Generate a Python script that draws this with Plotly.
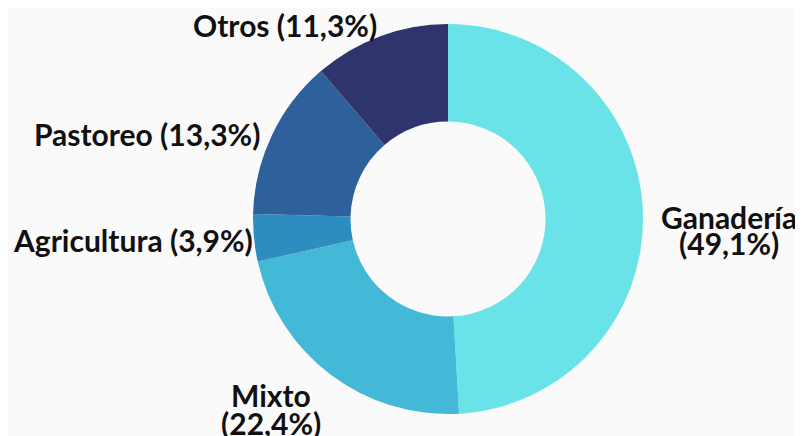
import plotly.graph_objects as go

categories = ["Ganadería", "Mixto", "Agricultura", "Pastoreo", "Otros"]
values = [49.1, 22.4, 3.9, 13.3, 11.3]
colors = ["#6ae3e8", "#44b8d7", "#2e8dbf", "#2e609b", "#2f346c"]

OFF = 8  # page body margin
W, H = 803 - OFF, 436 - OFF
# label layout (screen pixel positions of each label's anchor; style only)
label_layout = {
    "Ganadería": dict(x=729, ys=[217, 243], anchor="center", split=True),
    "Mixto": dict(x=271, ys=[395, 423], anchor="center", split=True),
    "Agricultura": dict(x=255, ys=[240], anchor="right", split=False),
    "Pastoreo": dict(x=262, ys=[134], anchor="right", split=False),
    "Otros": dict(x=379, ys=[25], anchor="right", split=False),
}

fig = go.Figure(go.Pie(
    labels=categories,
    values=values,
    textinfo="none",
    hole=0.5,
    sort=False,
    direction="clockwise",
    rotation=0,
    marker=dict(colors=colors, line=dict(width=0)),
    domain=dict(x=[(253 - OFF) / W, (643 - OFF) / W],
                y=[1 - (414 - OFF) / H, 1 - (24 - OFF) / H]),
    showlegend=False,
    hoverinfo="label+percent",
))

font = dict(family="Lato, sans-serif", size=30, color="#111111", weight="bold")
for c, v in zip(categories, values):
    pct = f"({v:.1f}%)".replace(".", ",")
    lay = label_layout[c]
    lines = [c, pct] if lay["split"] else [f"{c} {pct}"]
    for line, y in zip(lines, lay["ys"]):
        fig.add_annotation(
            text=line, x=(lay["x"] - OFF) / W, y=1 - (y - OFF) / H,
            xref="paper", yref="paper",
            xanchor=lay["anchor"], yanchor="middle",
            showarrow=False, font=font,
        )

fig.update_layout(
    width=W, height=H,
    margin=dict(l=0, r=0, t=0, b=0),
    paper_bgcolor="#fafafa",
    plot_bgcolor="#fafafa",
)
fig.write_html("out.html")
